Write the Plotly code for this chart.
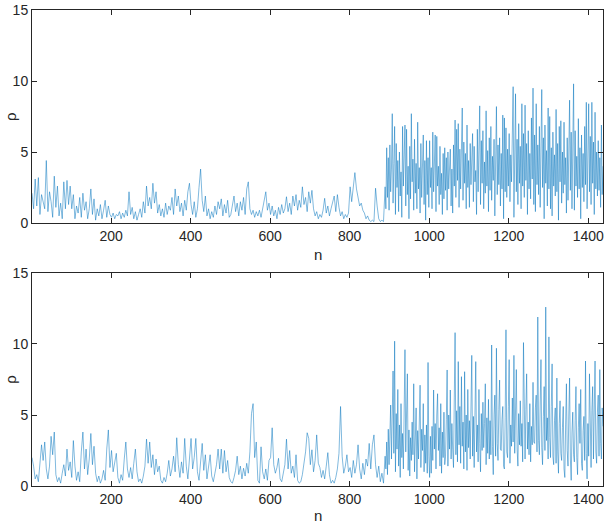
import plotly.graph_objects as go

# Sample positions: every 4th sample up to n=889, every 2nd sample afterwards
n_early = list(range(1, 890, 4))
n_late = list(range(891, 1438, 2))

# ---- top panel values ----
rho_top_early = [
    2.1, 1.0, 3.1, 1.2, 3.2, 0.6, 2.0, 1.5, 1.0, 4.4, 0.8, 2.2, 1.5, 0.4, 3.3, 1.1, 2.6, 0.5, 1.4, 0.3, 2.9, 1.0, 3.0, 1.3, 2.6,
    1.0, 2.0, 0.3, 1.2, 0.7, 1.8, 0.4, 2.1, 0.9, 1.5, 0.3, 1.0, 2.4, 0.6, 1.7, 0.2, 1.0, 0.5, 1.3, 0.3, 0.9, 1.6, 0.4, 1.2, 0.6,
    0.4, 0.7, 0.3, 0.6, 0.5, 0.8, 0.3, 0.7, 0.4, 0.9, 0.5, 2.2, 0.6, 1.1, 0.3, 0.8, 0.2, 0.6, 1.0, 0.4, 1.5, 0.7, 2.6, 1.2, 1.8,
    1.0, 2.8, 1.4, 2.2, 0.7, 1.3, 0.5, 1.0, 0.4, 1.4, 0.6, 1.2, 0.9, 1.8, 0.6, 2.4, 1.2, 1.9, 0.8, 1.4, 0.5, 1.6, 0.9, 2.2, 2.8,
    1.3, 0.6, 1.5, 0.4, 1.0, 2.5, 3.8, 1.6, 0.8, 1.9, 0.5, 1.0, 0.3, 0.8, 0.4, 1.2, 0.6, 1.5, 1.0, 1.7, 0.5, 1.3, 0.7, 1.6, 0.4,
    0.6, 1.2, 1.9, 0.8, 1.4, 0.5, 1.5, 0.9, 1.8, 0.6, 2.4, 2.9, 1.0, 0.6, 0.9, 0.4, 0.8, 0.5, 0.9, 0.4, 1.0, 1.5, 2.2, 0.9, 1.4,
    0.6, 1.2, 0.5, 0.9, 0.3, 1.1, 0.6, 1.3, 0.7, 1.0, 1.85, 0.8, 1.4, 0.6, 1.9, 1.2, 2.0, 0.9, 1.6, 1.1, 2.55, 1.3, 1.8, 0.8, 2.2,
    1.4, 2.3, 1.0, 0.5, 0.8, 0.3, 0.6, 0.4, 0.9, 1.74, 0.7, 1.2, 0.5, 1.0, 1.5, 1.9, 0.8, 2.0, 1.1, 0.5, 0.8, 0.3, 0.6, 0.4, 0.7,
    2.55, 1.5, 2.6, 3.55, 2.4, 1.9, 1.2, 1.4, 0.9, 0.7, 0.3, 0.5, 0.2, 0.1, 0.2, 0.1, 2.45, 1.2, 0.3, 0.1, 0.2, 0.1, 2.55,
]
rho_top_late = [
    1.0, 5.3, 1.8, 4.6, 0.9, 5.5, 2.2, 3.8, 7.7, 1.4, 4.2, 6.8, 0.6, 5.6, 2.5, 4.4, 0.8, 5.0, 1.9, 3.6, 0.4, 6.8, 2.6, 5.2, 6.9,
    1.2, 6.6, 2.0, 4.0, 0.3, 5.4, 1.7, 7.7, 2.9, 4.5, 0.9, 5.9, 2.1, 4.2, 1.0, 7.1, 2.4, 3.9, 0.7, 5.6, 1.8, 4.8, 6.2, 1.3, 4.4,
    0.2, 5.8, 2.0, 4.6, 1.1, 5.8, 2.5, 3.9, 1.0, 6.4, 2.2, 4.7, 6.2, 0.8, 6.1, 2.6, 4.0, 1.3, 5.4, 2.0, 3.5, 0.6, 4.9, 1.7, 5.3,
    2.3, 4.6, 0.9, 5.0, 2.4, 4.1, 5.2, 1.2, 3.8, 0.7, 5.5, 2.6, 7.25, 1.8, 6.6, 3.0, 7.0, 1.1, 5.2, 2.4, 4.6, 8.1, 1.6, 5.7, 2.8,
    4.9, 1.0, 6.9, 2.5, 4.4, 1.1, 5.6, 2.7, 4.0, 6.3, 1.5, 5.4, 2.9, 3.7, 0.6, 6.6, 2.2, 4.6, 8.25, 1.3, 5.8, 2.8, 6.5, 1.0, 4.3,
    2.1, 7.9, 2.6, 5.1, 0.8, 6.0, 2.3, 6.8, 1.6, 4.7, 3.0, 5.9, 0.5, 6.2, 8.2, 2.0, 5.5, 2.7, 6.0, 1.2, 4.9, 2.4, 7.6, 0.3, 7.4,
    2.2, 6.7, 1.8, 5.2, 2.6, 6.3, 1.5, 4.8, 2.9, 6.0, 9.6, 0.4, 7.1, 9.1, 2.2, 5.9, 1.3, 7.0, 2.8, 5.4, 1.0, 8.4, 2.6, 6.3, 1.8,
    8.3, 3.0, 5.6, 0.6, 6.5, 2.4, 4.9, 1.7, 7.4, 3.1, 9.5, 1.3, 6.2, 0.8, 8.4, 2.7, 5.5, 2.0, 6.8, 1.1, 5.2, 9.4, 2.5, 6.0, 0.3,
    6.9, 2.8, 5.1, 1.2, 8.1, 2.4, 7.5, 1.0, 5.3, 0.5, 6.4, 2.6, 4.8, 1.9, 8.0, 2.2, 5.6, 0.2, 6.8, 2.9, 7.2, 1.4, 5.0, 2.1, 7.1,
    2.7, 4.6, 0.7, 6.0, 1.6, 5.2, 8.65, 2.3, 6.4, 1.0, 5.5, 9.8, 0.9, 6.5, 2.6, 4.7, 1.8, 7.35, 2.4, 5.3, 0.3, 6.2, 2.5, 4.9, 1.5,
    6.8, 2.7, 8.5, 1.0, 5.9, 8.4, 2.2, 6.1, 1.3, 8.5, 2.8, 5.7, 0.6, 7.8, 2.4, 5.0, 1.9, 5.8, 2.3, 4.6, 1.1, 6.9, 2.0, 4.0,
]

# ---- bottom panel values ----
rho_bottom_early = [
    2.0, 1.4, 0.5, 0.8, 0.3, 1.6, 2.9, 1.8, 3.1, 1.2, 0.5, 1.4, 3.5, 2.2, 3.8, 0.8, 0.3, 0.6, 0.2, 0.9, 1.5, 0.7, 2.6, 1.1, 1.7,
    0.6, 3.2, 1.4, 0.4, 1.0, 0.3, 2.4, 3.8, 1.2, 2.6, 0.8, 1.9, 3.7, 1.5, 2.8, 0.9, 0.3, 0.7, 0.2, 0.5, 1.1, 0.4, 2.6, 3.95, 1.3,
    2.5, 1.0, 1.8, 2.3, 0.6, 0.2, 0.8, 0.4, 1.9, 3.1, 1.2, 0.6, 1.3, 0.5, 1.6, 2.6, 1.0, 0.3, 0.5, 0.2, 0.7, 1.4, 3.3, 1.6, 3.1,
    1.3, 2.2, 0.8, 1.9, 1.0, 1.4, 0.4, 0.2, 0.6, 0.3, 0.9, 1.8, 0.7, 1.2, 2.1, 1.0, 3.4, 1.5, 0.6, 1.7, 0.9, 3.35, 1.4, 0.5, 1.9,
    3.35, 1.2, 2.0, 3.35, 1.0, 0.4, 1.6, 3.0, 1.1, 2.2, 0.5, 1.3, 2.2, 0.7, 0.3, 0.9, 1.5, 2.6, 1.2, 2.6, 0.9, 2.5, 1.0, 1.8, 0.6,
    0.3, 0.2, 0.6, 1.1, 2.1, 0.8, 1.4, 0.5, 1.25, 0.7, 1.6, 0.9, 2.4, 5.1, 5.8, 2.0, 3.1, 0.4, 0.2, 2.76, 1.0, 0.5, 1.2, 0.4, 1.8,
    2.0, 4.1, 1.5, 0.9, 1.3, 1.95, 0.5, 0.3, 0.8, 1.5, 3.3, 1.2, 2.5, 0.9, 1.4, 0.6, 2.2, 0.4, 0.2, 0.3, 0.8, 1.6, 2.4, 3.75, 3.35,
    1.5, 2.55, 1.0, 1.8, 3.6, 1.6, 1.3, 0.6, 1.1, 0.5, 1.4, 2.35, 0.8, 0.2, 0.4, 0.2, 0.6, 1.2, 2.3, 5.6, 2.1, 0.9, 1.4, 2.2, 1.0,
    1.3, 0.6, 1.8, 0.9, 1.5, 2.9, 1.2, 0.5, 1.6, 0.8, 1.9, 1.4, 3.0, 1.2, 2.9, 3.6, 1.5, 0.6, 1.4, 0.3, 0.9, 0.2, 2.1,
]
rho_bottom_late = [
    1.2, 3.1, 0.8, 4.0, 1.5, 3.2, 5.7, 1.9, 4.6, 8.1, 2.3, 10.2, 1.0, 5.1, 2.6, 6.8, 1.4, 4.3, 0.6, 5.8, 2.0, 3.7, 1.2, 6.0, 9.6,
    2.4, 5.3, 7.9, 1.1, 3.95, 0.7, 3.4, 1.8, 4.5, 2.2, 7.2, 1.0, 4.8, 5.5, 0.5, 3.9, 1.9, 5.2, 7.1, 1.3, 4.0, 2.5, 5.8, 1.0, 3.6,
    1.6, 4.3, 0.9, 8.7, 2.1, 0.6, 3.5, 0.9, 4.2, 1.8, 6.76, 2.6, 4.4, 1.2, 5.0, 6.5, 2.5, 4.1, 1.4, 5.8, 0.9, 3.8, 2.0, 5.2, 1.5,
    2.1, 4.7, 8.17, 1.4, 5.0, 2.6, 6.76, 1.9, 4.4, 2.6, 1.3, 6.2, 10.8, 2.2, 5.3, 1.7, 8.76, 2.9, 5.6, 1.6, 7.7, 2.8, 4.5, 1.2, 8.05,
    2.4, 5.0, 1.1, 6.8, 2.7, 4.6, 1.9, 5.5, 9.2, 2.1, 4.9, 1.3, 5.8, 8.76, 2.4, 4.3, 1.7, 6.8, 3.0, 1.0, 5.1, 2.5, 5.9, 2.7, 4.4,
    7.2, 1.5, 4.8, 2.3, 6.1, 1.9, 4.6, 2.2, 9.93, 2.8, 0.8, 5.0, 6.4, 2.1, 9.7, 3.0, 1.8, 5.4, 7.46, 2.6, 2.5, 4.7, 5.6, 1.4, 1.2,
    4.8, 11.0, 2.4, 2.0, 5.6, 8.9, 1.6, 4.3, 2.8, 6.2, 3.1, 9.2, 2.3, 5.7, 8.2, 2.6, 1.4, 5.1, 2.9, 6.0, 2.8, 4.4, 1.7, 10.1, 3.3,
    1.9, 5.4, 7.9, 2.6, 4.5, 2.2, 5.8, 1.7, 4.2, 2.9, 7.3, 3.1, 3.0, 5.5, 6.4, 2.4, 11.9, 3.2, 2.2, 5.7, 8.9, 2.7, 1.5, 4.9, 7.0,
    2.5, 12.6, 3.2, 4.8, 1.9, 10.5, 3.4, 2.0, 5.6, 8.6, 2.1, 1.5, 4.6, 5.5, 1.6, 7.6, 2.4, 0.9, 4.4, 6.0, 2.3, 1.8, 4.1, 5.6, 1.2,
    0.6, 4.3, 7.2, 2.5, 1.4, 5.0, 7.6, 1.9, 0.4, 3.8, 5.2, 2.2, 1.7, 4.6, 7.0, 2.0, 0.8, 4.1, 5.8, 3.0, 6.8, 1.6, 1.1, 3.9, 4.9,
    1.8, 8.8, 2.3, 0.5, 4.4, 2.1, 7.9, 2.6, 1.3, 5.3, 7.0, 1.9, 4.5, 8.8, 2.4, 1.6, 5.2, 6.4, 2.1, 8.2, 3.0, 1.9, 5.5, 4.2,
]

x_ticks = [200, 400, 600, 800, 1000, 1200, 1400]
y_ticks = [0, 5, 10, 15]
x_label = "n"
y_label = "ρ"

n_top = (n_early + n_late)[:len(rho_top_early) + len(rho_top_late)]
n_bottom = (n_early + n_late)[:len(rho_bottom_early) + len(rho_bottom_late)]
rho_top = rho_top_early + rho_top_late
rho_bottom = rho_bottom_early + rho_bottom_late

LINE = "#0072BD"
INK = "#262626"
FONT = "Liberation Sans, Arial, sans-serif"

fig = go.Figure()
fig.add_trace(go.Scatter(x=n_top, y=rho_top, mode="lines",
                         line=dict(color=LINE, width=0.5), xaxis="x", yaxis="y",
                         showlegend=False, hoverinfo="skip"))
fig.add_trace(go.Scatter(x=n_bottom, y=rho_bottom, mode="lines",
                         line=dict(color=LINE, width=0.5), xaxis="x2", yaxis="y2",
                         showlegend=False, hoverinfo="skip"))

ax_common = dict(showgrid=False, zeroline=False, showline=True, linecolor=INK,
                 linewidth=1, mirror="ticks", ticks="inside", ticklen=5,
                 tickcolor=INK, tickwidth=1, tickfont=dict(size=14, color=INK, family=FONT))

fig.update_layout(
    width=606, height=526,
    margin=dict(l=32, r=3, t=10, b=40),
    paper_bgcolor="white", plot_bgcolor="white",
    font=dict(family=FONT, color=INK, size=14),
    xaxis=dict(domain=[0, 1], anchor="y", range=[1, 1437], tickvals=x_ticks, **ax_common),
    yaxis=dict(domain=[0.5525, 1], anchor="x", range=[0, 15], tickvals=y_ticks, **ax_common),
    xaxis2=dict(domain=[0, 1], anchor="y2", range=[1, 1437], tickvals=x_ticks, **ax_common),
    yaxis2=dict(domain=[0, 0.4475], anchor="x2", range=[0, 15], tickvals=y_ticks, **ax_common),
    annotations=[
        dict(text=x_label, xref="paper", yref="paper", x=0.5, y=0.487, xanchor="center",
             yanchor="middle", showarrow=False, font=dict(size=15, color=INK, family=FONT)),
        dict(text=x_label, xref="paper", yref="paper", x=0.5, y=-0.063, xanchor="center",
             yanchor="middle", showarrow=False, font=dict(size=15, color=INK, family=FONT)),
        dict(text=y_label, xref="paper", yref="paper", x=-0.038, y=0.776, xanchor="center",
             yanchor="middle", textangle=-90, showarrow=False, font=dict(size=15, color=INK, family=FONT)),
        dict(text=y_label, xref="paper", yref="paper", x=-0.038, y=0.224, xanchor="center",
             yanchor="middle", textangle=-90, showarrow=False, font=dict(size=15, color=INK, family=FONT)),
    ],
)

fig.write_html("out.html")
